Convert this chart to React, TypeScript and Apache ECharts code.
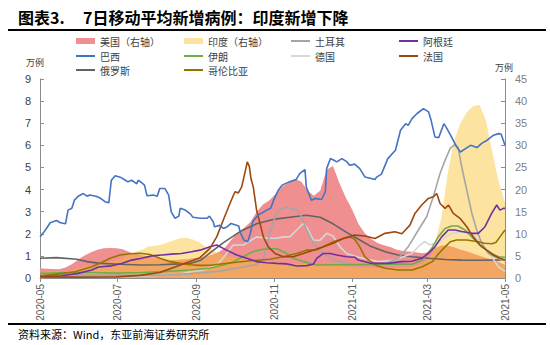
import React, { useEffect, useRef } from 'react';
import * as echarts from 'echarts';

// x positions are days since 2020-05-01
const monthDays = [0, 61, 123, 184, 245, 304, 365];
const monthLabels = ['2020-05', '2020-07', '2020-09', '2020-11', '2021-01', '2021-03', '2021-05'];

// shared 5-day grid for the two area series (right axis, 万例)
const areaDays = Array.from({ length: 74 }, (_, i) => Math.min(i * 5, 365));
const usValues = [
  2.2, 2.1, 2.05, 2.0, 2.4, 3.1, 4.2, 5.1, 5.8, 6.4, 6.7, 6.8, 6.7, 6.5, 5.9, 5.4, 5.1, 4.9, 4.6, 4.3,
  4.1, 4.0, 4.1, 4.2, 4.4, 4.6, 4.8, 5.2, 5.8, 6.8, 8.6, 10.2, 11.3, 12.6, 14.9, 16.6, 17.6, 19.0, 20.7, 21.5,
  22.4, 21.8, 19.8, 18.6, 19.8, 24.5, 25.3, 21.5, 18.2, 15.5, 12.2, 10.1, 8.8, 7.9, 7.4, 7.0, 6.4, 6.1, 6.0, 5.8,
  5.6, 5.8, 6.7, 7.3, 7.3, 6.9, 6.4, 6.0, 5.5, 5.0, 4.5, 4.1, 3.6, 2.9,
];
const indiaValues = [
  1.3, 1.4, 1.4, 1.45, 1.5, 1.7, 2.1, 2.5, 2.8, 3.1, 3.4, 3.7, 4.0, 4.5, 5.3, 5.9, 6.4, 7.1, 7.3, 7.5,
  8.0, 8.5, 9.0, 9.1, 8.7, 8.1, 7.1, 6.3, 5.7, 5.0, 4.8, 4.6, 4.4, 4.2, 4.1, 3.9, 3.8, 3.6, 3.5, 3.3,
  3.25, 3.2, 3.1, 3.0, 2.9, 2.85, 2.75, 2.7, 2.6, 2.55, 2.5, 2.4, 2.3, 2.2, 2.2, 2.25, 2.3, 2.4, 2.5, 2.8,
  3.3, 4.4, 7.8, 13.5, 23.5, 31.0, 35.0, 37.5, 38.9, 39.1, 35.7, 28.5, 21.8, 17.0,
];

// line series (left axis, 万例): [day, value]
const brazil = [
  [0, 1.86], [4, 2.15], [8, 2.5], [13, 2.6], [16, 2.5], [20, 2.45], [22, 3.07], [25, 3.15], [27, 3.52], [30, 3.7],
  [34, 3.82], [37, 3.7], [39, 3.75], [44, 3.7], [47, 3.62], [51, 3.45], [54, 3.4], [56, 4.42], [59, 4.62], [63, 4.56],
  [67, 4.42], [69, 4.35], [72, 4.42], [76, 4.26], [77, 4.42], [80, 4.3], [82, 4.2], [84, 3.72], [89, 3.75], [92, 3.7],
  [94, 4.05], [98, 4.05], [101, 3.75], [103, 2.99], [106, 2.7], [109, 2.8], [110, 3.15], [114, 3.07], [118, 2.9], [120, 2.75],
  [126, 2.7], [131, 2.7], [133, 2.8], [135, 2.62], [136, 2.54], [137, 2.32], [141, 2.38], [144, 2.24], [147, 2.32], [150, 2.47],
  [156, 2.35], [157, 2.09], [160, 1.72], [163, 1.64], [165, 2.0], [167, 2.54], [171, 2.84], [178, 3.07], [181, 3.15], [184, 3.6],
  [187, 3.97], [190, 4.2], [196, 4.35], [201, 4.45], [204, 4.73], [208, 4.9], [209, 4.12], [213, 3.52], [216, 3.6], [221, 3.55],
  [224, 3.9], [225, 4.95], [228, 5.4], [230, 5.35], [233, 5.25], [237, 5.4], [241, 5.25], [243, 5.1], [247, 5.15], [251, 4.95],
  [255, 4.57], [260, 4.5], [263, 4.45], [264, 4.55], [268, 4.7], [273, 5.4], [279, 5.78], [283, 6.68], [287, 6.98], [289, 6.9],
  [292, 7.21], [296, 7.44], [301, 7.66], [305, 7.51], [307, 7.13], [310, 6.38], [313, 6.35], [317, 6.98], [319, 6.8], [323, 6.38],
  [327, 5.93], [330, 5.7], [334, 5.85], [338, 6.0], [343, 5.9], [347, 6.1], [351, 6.23], [356, 6.46], [360, 6.53], [362, 6.5],
  [365, 6.0],
];
const turkey = [
  [0, 0.22], [20, 0.15], [40, 0.12], [60, 0.13], [80, 0.11], [100, 0.14], [120, 0.2], [140, 0.3], [155, 0.45], [165, 0.55],
  [170, 0.62], [175, 0.81], [180.5, 2.02], [184.5, 2.77], [188, 3.1], [193.6, 3.2], [201.5, 3.07], [205.4, 2.77], [209.3, 2.17], [214.5, 1.57],
  [222.4, 1.11], [230.2, 0.81], [240.7, 0.66], [255, 0.59], [270.8, 0.66], [281.2, 0.89], [289, 1.41], [297, 2.17], [303.5, 2.77], [308.7, 3.67],
  [314, 4.73], [318, 5.33], [322, 5.86], [325.7, 6.05], [328.3, 5.9], [331, 5.03], [335, 3.97], [339, 2.92], [342.8, 2.17], [346.7, 1.57],
  [352, 1.11], [357, 0.96], [362.4, 0.81], [365, 0.78],
];
const argentina = [
  [4, 0.06], [17, 0.1], [30, 0.21], [40.6, 0.36], [45.8, 0.5], [56.3, 0.55], [64, 0.66], [72, 0.81], [79.8, 0.89], [87.7, 1.0],
  [95.5, 1.04], [103.4, 1.08], [111, 1.11], [119, 1.19], [125.6, 1.26], [133.4, 1.41], [138.7, 1.49], [146.5, 1.26], [154.4, 1.04], [162.2, 0.89],
  [170, 0.74], [178, 0.69], [185.8, 0.66], [193.6, 0.64], [201.5, 0.54], [209.3, 0.56], [214.5, 0.62], [217.2, 0.89], [222.4, 1.11], [227.6, 1.11],
  [232.9, 1.04], [240.7, 0.96], [247, 0.94], [249.8, 0.81], [260.4, 0.66], [273.4, 0.66], [283.9, 0.74], [291.8, 0.76], [299.6, 0.89], [304.8, 1.11],
  [310, 1.41], [315.3, 1.86], [320.5, 2.17], [325.7, 2.17], [331, 2.1], [339, 2.02], [344, 2.02], [349.3, 2.32], [354.5, 2.92], [358.5, 3.3],
  [361, 3.07], [363.7, 3.15], [365, 3.15],
];
const iran = [
  [0, 0.2], [20, 0.25], [40, 0.25], [60, 0.22], [80, 0.25], [100, 0.3], [118, 0.36], [133, 0.44], [144, 0.59], [152, 0.74],
  [157, 0.89], [167, 1.19], [175, 1.3], [185.8, 1.33], [193.6, 1.11], [199, 0.89], [207, 0.74], [217, 0.59], [230, 0.6], [247, 0.6],
  [265, 0.62], [280, 0.63], [292, 0.62], [300, 0.81], [307.5, 1.34], [312.6, 1.86], [318, 2.24], [323, 2.35], [328, 2.35], [333.6, 2.17],
  [339, 1.86], [346.7, 1.41], [354.5, 1.11], [359.8, 0.96], [365, 0.94],
];
const germany = [
  [0, 0.12], [30, 0.05], [60, 0.05], [90, 0.12], [110, 0.18], [118, 0.28], [128, 0.36], [139, 0.59], [146.5, 1.11], [151.7, 1.49],
  [159.6, 1.49], [170, 1.86], [178, 1.8], [185.8, 1.8], [191, 1.86], [196, 1.86], [201.5, 2.17], [206.7, 2.47], [209.3, 2.3], [214.5, 1.72],
  [219.8, 1.7], [225, 2.02], [230, 1.9], [235.5, 1.41], [240.7, 1.11], [248.6, 0.96], [265.5, 0.74], [278.6, 0.81], [291.8, 1.11], [298.3, 1.49],
  [302, 1.64], [306, 1.5], [312.6, 1.6], [323, 2.02], [331, 2.08], [339, 2.02], [346.7, 1.57], [354.5, 0.96], [359.8, 0.51], [365, 0.3],
];
const france = [
  [0, 0.05], [30, 0.04], [60, 0.05], [78.5, 0.12], [94, 0.25], [106, 0.5], [117.7, 0.75], [125.6, 0.92], [133.4, 1.34], [138.7, 1.86],
  [143.9, 2.62], [149.1, 3.37], [153, 3.9], [155.7, 3.85], [158.3, 4.12], [161, 4.8], [162.7, 5.25], [164.3, 5.05], [165.6, 4.5], [167.4, 4.12],
  [170, 3.07], [172.7, 2.47], [175.3, 1.86], [179.2, 1.41], [184.5, 1.11], [191, 0.96], [198.8, 0.96], [206.7, 1.11], [214.5, 1.26], [222.4, 1.41],
  [230.2, 1.57], [238, 1.79], [247, 1.94], [255, 1.9], [263, 1.79], [270.8, 2.02], [278.6, 2.09], [284, 2.0], [290.4, 2.39], [294.3, 2.92],
  [299.6, 3.3], [304.8, 3.6], [308.7, 3.67], [311.4, 3.82], [314, 3.37], [318, 3.15], [320.7, 3.3], [324.4, 2.92], [329.7, 2.7], [335, 2.32],
  [340, 1.86], [345.4, 1.49], [350.6, 1.26], [355.8, 1.04], [361, 0.89], [365, 0.81],
];
const russia = [
  [0, 0.89], [13, 0.92], [29, 0.85], [37, 0.74], [47, 0.66], [63, 0.62], [79, 0.59], [94, 0.6], [110, 0.64], [118, 0.66],
  [126, 0.8], [136, 1.25], [144, 1.6], [157, 2.1], [170, 2.45], [183, 2.65], [196, 2.75], [209, 2.84], [220, 2.75], [230, 2.45],
  [241, 2.05], [250, 1.75], [260, 1.42], [271, 1.19], [281, 1.04], [292, 0.96], [305, 0.89], [318, 0.84], [331, 0.81], [344, 0.8],
  [365, 0.82],
];
const colombia = [
  [0, 0.1], [9, 0.14], [27.5, 0.28], [40.6, 0.51], [48.4, 0.7], [55, 0.89], [62.8, 1.04], [70.6, 1.1], [78.5, 1.12], [86.3, 1.06],
  [94.2, 0.89], [102, 0.74], [110, 0.66], [117.7, 0.6], [125.6, 0.57], [133.4, 0.58], [149, 0.68], [164.8, 0.78], [180.5, 0.85], [190.7, 0.96],
  [201.5, 1.11], [209.3, 1.26], [217.2, 1.28], [222.4, 1.41], [230.2, 1.64], [238, 1.79], [243.3, 1.86], [247, 1.75], [251, 1.41], [255, 0.96],
  [263, 0.59], [271, 0.44], [281, 0.36], [292, 0.36], [300, 0.51], [308, 0.74], [313, 1.11], [318, 1.41], [322, 1.64], [327, 1.72],
  [335, 1.72], [344, 1.64], [349, 1.57], [355, 1.55], [358, 1.62], [361, 1.86], [365, 2.17],
];

const legendNames = ['美国（右轴）', '印度（右轴）', '土耳其', '阿根廷', '巴西', '伊朗', '德国', '法国', '俄罗斯', '哥伦比亚'];
const colors: Record<string, string> = {
  '美国（右轴）': '#F08F8F',
  '印度（右轴）': '#FDE3A0',
  '土耳其': '#A5A5A5',
  '阿根廷': '#7030A0',
  '巴西': '#4472C4',
  '伊朗': '#70AD47',
  '德国': '#D6D6D6',
  '法国': '#9E480E',
  '俄罗斯': '#636363',
  '哥伦比亚': '#997300',
};
const overlapColor = '#F3A662';

const FONT_CJK = '"Noto Sans CJK SC", "Noto Sans", sans-serif';
const FONT_NUM = '"Liberation Sans", Arial, sans-serif';

export default function App() {
  const ref = useRef<HTMLDivElement>(null);
  useEffect(() => {
    if (!ref.current) return;
    const chart = echarts.init(ref.current, undefined, { renderer: 'svg' });

    const usData = areaDays.map((d, i) => [d, usValues[i]]);
    const indiaData = areaDays.map((d, i) => [d, indiaValues[i]]);
    const overlapData = areaDays.map((d, i) => [d, Math.min(usValues[i], indiaValues[i])]);

    const lineSeries = (name: string, data: number[][]) => ({
      name,
      type: 'line',
      data,
      yAxisIndex: 0,
      symbol: 'none',
      color: colors[name],
      lineStyle: { width: 1.6, color: colors[name] },
      emphasis: { disabled: true },
    });
    const areaSeries = (name: string, data: number[][], color: string) => ({
      name,
      type: 'line',
      data,
      yAxisIndex: 1,
      symbol: 'none',
      color,
      lineStyle: { width: 0, color },
      areaStyle: { color, opacity: 1 },
      emphasis: { disabled: true },
    });

    const colX = [76, 184, 291, 399];
    const rowY = [43, 58, 72];
    const legends = legendNames.map((name, i) => {
      const isArea = i < 2;
      return {
        left: colX[i % 4],
        top: rowY[Math.floor(i / 4)] - 7,
        padding: 0,
        itemWidth: 19,
        itemHeight: isArea ? 6 : 2,
        icon: 'rect',
        selectedMode: false,
        textStyle: { fontSize: 10, color: '#404040', fontFamily: FONT_CJK, padding: [0, 0, 0, 0] },
        data: [{ name, icon: 'rect', itemStyle: { color: colors[name], borderWidth: 0 } }],
      };
    });

    chart.setOption({
      animation: false,
      legend: legends,
      grid: { left: 40, right: 45, top: 79, bottom: 67 },
      xAxis: {
        type: 'value',
        min: 0,
        max: 365,
        splitLine: { show: false },
        axisLine: { lineStyle: { color: '#8C8C8C', width: 1 } },
        axisTick: { show: true, customValues: monthDays, length: 4, lineStyle: { color: '#8C8C8C' } },
        axisLabel: {
          customValues: monthDays,
          rotate: 90,
          fontSize: 10,
          color: '#595959',
          fontFamily: FONT_NUM,
          margin: 6,
          showMinLabel: true,
          showMaxLabel: true,
          formatter: (v: number) => {
            const idx = monthDays.indexOf(Math.round(v));
            return idx >= 0 ? monthLabels[idx] : '';
          },
        },
      },
      yAxis: [
        {
          type: 'value',
          min: 0,
          max: 9,
          interval: 1,
          splitLine: { show: false },
          axisLine: { show: true, lineStyle: { color: '#8C8C8C' } },
          axisTick: { show: true, inside: true, length: 4, lineStyle: { color: '#8C8C8C' } },
          axisLabel: { fontSize: 11, color: '#404040', fontFamily: FONT_NUM, margin: 9 },
        },
        {
          type: 'value',
          min: 0,
          max: 45,
          interval: 5,
          position: 'right',
          splitLine: { show: false },
          axisLine: { show: true, lineStyle: { color: '#8C8C8C' } },
          axisTick: { show: true, inside: true, length: 4, lineStyle: { color: '#8C8C8C' } },
          axisLabel: { fontSize: 11, color: '#808080', fontFamily: FONT_NUM, margin: 10 },
        },
      ],
      series: [
        areaSeries('印度（右轴）', indiaData, colors['印度（右轴）']),
        areaSeries('美国（右轴）', usData, colors['美国（右轴）']),
        areaSeries('overlap', overlapData, overlapColor),
        lineSeries('俄罗斯', russia),
        lineSeries('德国', germany),
        lineSeries('土耳其', turkey),
        lineSeries('伊朗', iran),
        lineSeries('哥伦比亚', colombia),
        lineSeries('阿根廷', argentina),
        lineSeries('法国', france),
        lineSeries('巴西', brazil),
      ],
      graphic: [
        {
          type: 'text',
          left: 18,
          top: 9,
          style: { text: '图表3.', fontSize: 16, fontWeight: 'bold', fill: '#000', fontFamily: FONT_CJK },
        },
        {
          type: 'text',
          left: 83,
          top: 9,
          style: { text: '7日移动平均新增病例：印度新增下降', fontSize: 16, fontWeight: 'bold', fill: '#000', fontFamily: FONT_CJK },
        },
        { type: 'rect', shape: { x: 8, y: 29, width: 538, height: 2 }, style: { fill: '#000' } },
        {
          type: 'text',
          left: 26,
          top: 58,
          style: { text: '万例', fontSize: 9, fill: '#404040', fontFamily: FONT_CJK },
        },
        {
          type: 'text',
          left: 495,
          top: 63,
          style: { text: '万例', fontSize: 9, fill: '#404040', fontFamily: FONT_CJK },
        },
        { type: 'rect', shape: { x: 8, y: 323, width: 538, height: 2 }, style: { fill: '#000' } },
        {
          type: 'text',
          left: 18,
          top: 328,
          style: { text: '资料来源：Wind，东亚前海证券研究所', fontSize: 11, fill: '#000', fontFamily: FONT_CJK },
        },
      ],
    });
    return () => chart.dispose();
  }, []);
  return <div ref={ref} style={{ width: 550, height: 345, position: 'absolute', left: 0, top: 0 }} />;
}
